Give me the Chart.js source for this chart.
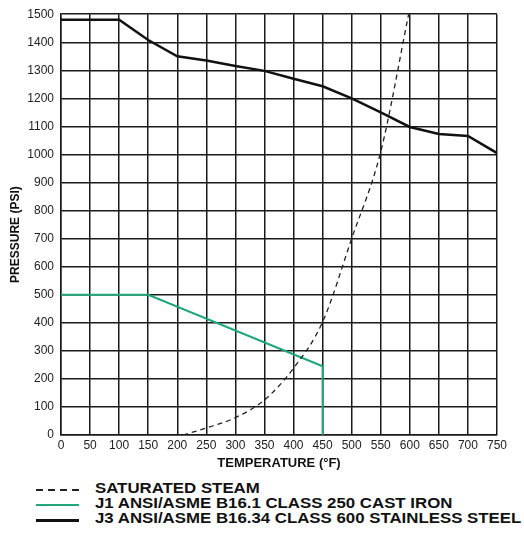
<!DOCTYPE html>
<html><head><meta charset="utf-8">
<script src="https://cdn.jsdelivr.net/npm/chart.js@4/dist/chart.umd.min.js"></script>
<style>
html,body{margin:0;padding:0;background:#fff;}
#wrap{position:relative;width:524px;height:475px;}
#legend{position:absolute;left:0;top:478px;width:524px;font-family:"Liberation Sans",Arial,sans-serif;font-weight:bold;font-size:14.5px;color:#111;}
.row{position:absolute;left:36px;height:15px;white-space:nowrap;}
.sw{position:absolute;left:0;top:7px;width:43px;}
.lbl{position:absolute;left:59px;top:-2px;transform:scaleX(1.16);transform-origin:0 50%;}
</style></head>
<body>
<div id="wrap"><canvas id="c" width="524" height="475"></canvas></div>
<div id="legend">
 <div class="row" style="top:4px"><div class="sw" style="height:1.5px;background:repeating-linear-gradient(to right,#222 0,#222 7px,transparent 7px,transparent 12px)"></div><div class="lbl">SATURATED STEAM</div></div>
 <div class="row" style="top:19px"><div class="sw" style="height:2px;background:#1fa67a"></div><div class="lbl">J1 ANSI/ASME B16.1 CLASS 250 CAST IRON</div></div>
 <div class="row" style="top:34px"><div class="sw" style="height:3px;background:#111"></div><div class="lbl">J3 ANSI/ASME B16.34 CLASS 600 STAINLESS STEEL</div></div>
</div>
<script>
const xTicks = [0,50,100,150,200,250,300,350,400,450,500,550,600,650,700,750];
const yTicks = [0,100,200,300,400,500,600,700,800,900,1000,1100,1200,1300,1400,1500];

const steamTemp  = [210, 250, 300, 350, 400, 450, 500, 550, 598];
const steamPress = [0,   25,  62,  125, 238, 403, 700, 1010, 1500];

const ironTemp  = [0,   150, 450, 450];
const ironPress = [500, 500, 245, 0];

const steelTemp  = [0,    100,  150,  200,  250,  300,  350,  400,  450,  500,  550,  600,  650,  700,  750];
const steelPress = [1480, 1480, 1408, 1350, 1335, 1315, 1298, 1270, 1243, 1200, 1150, 1098, 1073, 1066, 1005];

const pts = (xs, ys) => xs.map((x, i) => ({x, y: ys[i]}));
const fam = '"Liberation Sans", Arial, sans-serif';
const font = {family: fam, size: 12};

new Chart(document.getElementById('c'), {
  type: 'scatter',
  data: {
    datasets: [
      {label: 'SATURATED STEAM', data: pts(steamTemp, steamPress), showLine: true, borderColor: '#222', borderWidth: 1.3, borderDash: [5, 4], pointRadius: 0, cubicInterpolationMode: 'monotone', fill: false},
      {label: 'J1 ANSI/ASME B16.1 CLASS 250 CAST IRON', data: pts(ironTemp, ironPress), showLine: true, borderColor: '#1fa67a', borderWidth: 2, pointRadius: 0, tension: 0, fill: false},
      {label: 'J3 ANSI/ASME B16.34 CLASS 600 STAINLESS STEEL', data: pts(steelTemp, steelPress), showLine: true, borderColor: '#111', borderWidth: 2.5, pointRadius: 0, tension: 0, fill: false}
    ]
  },
  options: {
    responsive: false,
    animation: false,
    layout: {padding: {top: 14, right: 27, left: 0, bottom: 4}},
    plugins: {legend: {display: false}, tooltip: {enabled: false}},
    scales: {
      x: {
        type: 'linear', min: 0, max: 750,
        afterBuildTicks: s => { s.ticks = xTicks.map(v => ({value: v})); },
        afterFit: s => { s.height = 36; },
        grid: {color: '#1a1a1a', lineWidth: 1.5, drawTicks: false},
        border: {color: '#1a1a1a', width: 1.5},
        ticks: {font: font, color: '#222', padding: 3, maxRotation: 0, autoSkip: false, callback: v => String(v)},
        title: {display: true, text: 'TEMPERATURE (°F)', font: {family: fam, size: 13, weight: 'bold'}, color: '#111', padding: {top: 0, bottom: 0}}
      },
      y: {
        type: 'linear', min: 0, max: 1500,
        afterBuildTicks: s => { s.ticks = yTicks.map(v => ({value: v})); },
        afterFit: s => { s.width = 61; },
        grid: {color: '#1a1a1a', lineWidth: 1.5, drawTicks: false},
        border: {color: '#1a1a1a', width: 1.5},
        ticks: {font: font, color: '#222', padding: 7, autoSkip: false, callback: v => String(v)},
        title: {display: true, text: 'PRESSURE (PSI)      ', font: {family: fam, size: 12, weight: 'bold'}, color: '#111', padding: {top: 8, bottom: 0}}
      }
    }
  }
});
</script>
</body></html>
